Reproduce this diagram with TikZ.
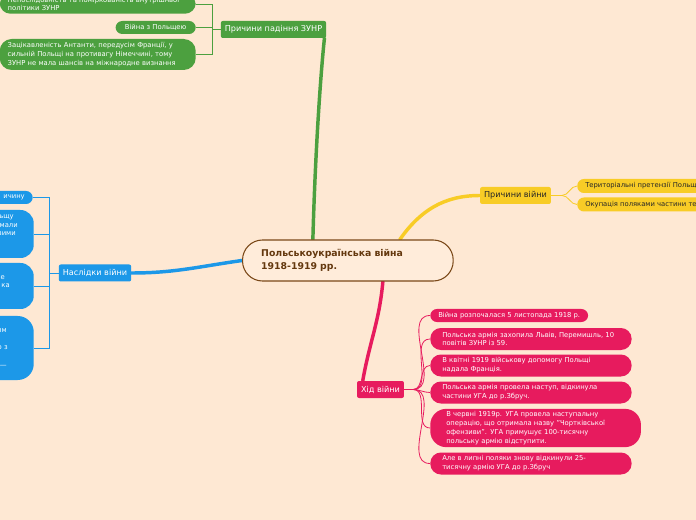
\documentclass[tikz,border=0pt]{standalone}
\usepackage{fontspec}
\setmainfont{DejaVu Sans}
\usepackage{tikz}
\usepackage{xcolor}
\usetikzlibrary{positioning,calc,backgrounds}
\definecolor{PeachBg}{RGB}{254,232,211}
\definecolor{CoreFill}{RGB}{255,236,218}
\definecolor{CoreLine}{RGB}{122,72,24}
\definecolor{CoreText}{RGB}{100,56,14}
\definecolor{LeafGreen}{RGB}{76,160,63}
\definecolor{SunYellow}{RGB}{248,204,38}
\definecolor{SkyBlue}{RGB}{28,152,232}
\definecolor{RosePink}{RGB}{231,27,94}

\begin{document}
\begin{tikzpicture}[x=0.75pt,y=-0.75pt,
  core/.style={draw=CoreLine, line width=0.8pt, fill=CoreFill, rounded corners=15pt,
               text width=130pt, inner xsep=14pt, minimum height=30.75pt, align=left,
               font=\fontsize{7}{9.75}\selectfont\bfseries, text=CoreText},
  topic/.style={fill=#1, rounded corners=1.5pt, inner xsep=3pt, inner ysep=0pt,
                minimum height=12.75pt, font=\fontsize{6.1}{7.5}\selectfont, text=white},
  leaf/.style={fill=#1, text=white, align=left, inner xsep=6pt, inner ysep=2pt,
               font=\fontsize{5.1}{6.6}\selectfont},
  link/.style={draw=#1, line width=2.6pt, line cap=round},
  twig/.style={draw=#1, line width=0.6pt}
]
\path[use as bounding box] (0,0) rectangle (696,520);
\clip (0,0) rectangle (696,520);

\node[core, anchor=west] (war) at (242,260.5) {Польськоукраїнська війна\\1918-1919 рр.};

\node[topic=LeafGreen] (fall) at (273.5,29.5) {Причини падіння ЗУНР};
\node[leaf=LeafGreen, rounded corners=8pt, text width=135pt, anchor=east] (policy) at (196,4)
  {Непослідовність та поміркованість внутрішньої\\політики ЗУНР};
\node[leaf=LeafGreen, rounded corners=5pt, inner xsep=7pt, minimum height=9.75pt, anchor=east] (poland) at (196,27.5)
  {Війна з Польщею};
\node[leaf=LeafGreen, rounded corners=9pt, text width=135pt, minimum height=23.25pt, anchor=east] (entente) at (196,54.5)
  {Зацікавленість Антанти, передусім Франції, у\\сильній Польщі на противагу Німеччині, тому\\ЗУНР не мала шансів на міжнародне визнання};

\node[topic=SkyBlue] (after) at (95,273) {Наслідки війни};
\node[leaf=SkyBlue, align=right, text width=100pt, rounded corners=5pt, minimum height=9.75pt, anchor=east] (after1) at (33,197.5)
  {ичину};
\node[leaf=SkyBlue, align=right, text width=100pt, rounded corners=10pt, minimum height=36pt, anchor=east] (after2) at (34,234)
  {ьщу\kern9pt\\мали\kern6pt\\зими\kern7.5pt\\\mbox{}\\\mbox{}};
\node[leaf=SkyBlue, align=right, text width=100pt, rounded corners=10pt, minimum height=34.5pt, anchor=east] (after3) at (34,286)
  {е\kern15.75pt\\ка\kern12pt\\\mbox{}};
\node[leaf=SkyBlue, align=right, text width=100pt, rounded corners=12pt, minimum height=48pt, anchor=east] (after4) at (34,348)
  {им\kern14.25pt\\\mbox{}\\о з\kern13.5pt\\\mbox{}\\—\kern14.25pt};

\node[topic=SunYellow, text=black!85] (cause) at (515.5,195.5) {Причини війни};
\node[leaf=SunYellow, text=black!85, rounded corners=5pt, minimum height=10.5pt, anchor=west] (claims) at (577,186)
  {Територіальні претензії Польщі};
\node[leaf=SunYellow, text=black!85, rounded corners=5pt, minimum height=10.5pt, anchor=west] (seizure) at (577,204.5)
  {Окупація поляками частини території};

\node[topic=RosePink] (course) at (380.5,389.5) {Хід війни};
\node[leaf=RosePink, rounded corners=5pt, minimum height=9.75pt, anchor=west] (course1) at (430,315.5)
  {Війна розпочалася 5 листопада 1918 р.};
\node[leaf=RosePink, rounded corners=8pt, inner xsep=9pt, text width=133pt, minimum height=16.5pt, anchor=west] (course2) at (430,339)
  {Польська армія захопила Львів, Перемишль, 10\\повітів ЗУНР із 59.};
\node[leaf=RosePink, rounded corners=8pt, inner xsep=9pt, text width=133pt, minimum height=16.5pt, anchor=west] (course3) at (430,365.5)
  {В квітні 1919 військову допомогу Польщі\\надала Франція.};
\node[leaf=RosePink, rounded corners=8pt, inner xsep=9pt, text width=133pt, minimum height=16.5pt, anchor=west] (course4) at (430,392.5)
  {Польська армія провела наступ, відкинула\\частини УГА до р.Збруч.};
\node[leaf=RosePink, rounded corners=12pt, inner xsep=12pt, text width=134pt, minimum height=28.5pt, anchor=west] (course5) at (430,428)
  {В червні 1919р. УГА провела наступальну\\операцію, що отримала назву "Чортківської\\офензиви". УГА примушує 100-тисячну\\польську армію відступити.};
\node[leaf=RosePink, rounded corners=8pt, inner xsep=9pt, text width=133pt, minimum height=16.5pt, anchor=west] (course6) at (430,463.5)
  {Але в липні поляки знову відкинули 25-\\тисячну армію УГА до р.Збруч};

\begin{scope}[on background layer]
\fill[PeachBg] (0,0) rectangle (696,520);
\draw[link=LeafGreen] ($(war.north)+(-35,0)$) .. controls (315,160) and (320,80) .. ($(fall.south east)+(-2,0)$);
\draw[link=SunYellow] ($(war.north)+(52,0)$) to[out=55,in=180] (cause.west);
\draw[link=SkyBlue] (war.west) to[out=188,in=0] (after.east);
\draw[link=RosePink] ($(war.south)+(35,0)$) to[out=-95,in=80] ($(course.north west)+(6,0)$);

\coordinate (fallhub) at (212,29.5);
\draw[twig=LeafGreen] (fall.west) -- (fallhub);
\foreach \n in {policy,poland,entente}
  \draw[twig=LeafGreen] (fallhub) |- (\n.east);

\coordinate (afterhub) at (49,273);
\draw[twig=SkyBlue] (after.west) -- (afterhub);
\foreach \n in {after1,after2,after3,after4}
  \draw[twig=SkyBlue] (afterhub) |- (\n.east);

\coordinate (causehub) at (562,195.5);
\draw[twig=SunYellow] (cause.east) -- (causehub);
\foreach \n in {claims,seizure}
  \draw[twig=SunYellow] (causehub) to[out=0,in=180] (\n.west);

\coordinate (coursehub) at (413,389.5);
\draw[twig=RosePink] (course.east) -- (coursehub);
\foreach \n in {course1,course2,course3,course4,course5,course6}
  \draw[twig=RosePink] (coursehub) to[out=0,in=180] (\n.west);
\end{scope}
\end{tikzpicture}
\end{document}
